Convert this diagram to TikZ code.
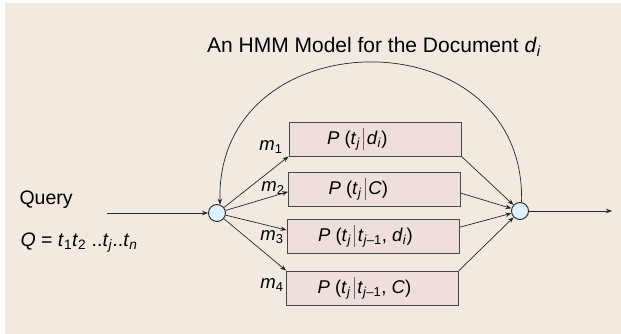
\documentclass[tikz,border=0pt]{standalone}
\usepackage{fontspec}
\setmainfont{Liberation Sans}
\usetikzlibrary{arrows.meta,calc}

\definecolor{bgbeige}{HTML}{F1EAE0}
\definecolor{boxpink}{HTML}{EEDFDB}
\definecolor{stateblue}{HTML}{DDF1FA}
\definecolor{inkgray}{HTML}{262626}

% subscript and the tall conditioning bar
\newcommand{\sbs}[1]{\textsubscript{#1}}
\newcommand{\given}{\,\textcolor{inkgray!70}{\rule[-0.3em]{0.6pt}{1.2em}}\,}

\begin{document}
\begin{tikzpicture}[x=1pt,y=-1pt,
    arr/.style={-{Stealth[length=6pt,width=4.5pt]}, line width=0.7pt, draw=inkgray},
    probbox/.style={draw=inkgray!85, line width=0.9pt, fill=boxpink,
        minimum width=172pt, minimum height=34pt, inner sep=0pt},
    state/.style={circle, draw=inkgray, line width=0.9pt, fill=stateblue,
        minimum size=17pt, inner sep=0pt},
    probtxt/.style={anchor=west, font=\fontsize{18.5}{20}\selectfont},
    mixlbl/.style={anchor=east, font=\fontsize{18.5}{20}\selectfont},
    plain/.style={font=\fontsize{19.5}{22}\selectfont}]

    % Page and background
    \useasboundingbox (0,0) rectangle (621,334);
    \fill[bgbeige] (5,3) rectangle (621,334);

    % Title
    \node[font=\fontsize{21}{24}\selectfont] (title) at (374,47)
        {An HMM Model for the Document \textit{d}\sbs{\textit{i}}};

    % Start and end states
    \node[state] (start) at (217,213) {};
    \node[state] (stop)  at (520,211) {};

    % Mixture components
    \node[probbox] (b1) at (375,139) {};
    \node[probbox] (b2) at (374.5,189) {};
    \node[probbox] (b3) at (373,236) {};
    \node[probbox] (b4) at (372.5,288) {};

    \node[probtxt, xshift=35pt] (p1) at (b1.west)
        {\textit{P} (\textit{t}\sbs{\textit{j}}\given\textit{d}\sbs{\textit{i}})};
    \node[probtxt, xshift=37pt] (p2) at (b2.west)
        {\textit{P} (\textit{t}\sbs{\textit{j}}\given\textit{C})};
    \node[probtxt, xshift=28pt] (p3) at (b3.west)
        {\textit{P} (\textit{t}\sbs{\textit{j}}\given\textit{t}\sbs{\textit{j}--1}, \textit{d}\sbs{\textit{i}})};
    \node[probtxt, xshift=28pt] (p4) at (b4.west)
        {\textit{P} (\textit{t}\sbs{\textit{j}}\given\textit{t}\sbs{\textit{j}--1}, \textit{C})};

    % Weights
    \node[mixlbl] (m1) at (286,147) {\textit{m}\sbs{1}};
    \node[mixlbl] (m2) at (288,188) {\textit{m}\sbs{2}};
    \node[mixlbl] (m3) at (287,237) {\textit{m}\sbs{3}};
    \node[mixlbl] (m4) at (287,285) {\textit{m}\sbs{4}};

    % Query text
    \node[plain, anchor=west] (query) at (16,200) {Query};
    \node[plain, anchor=west] (qdef) at (17,243)
        {\textit{Q} = \textit{t}\sbs{1}\textit{t}\sbs{2} ..\textit{t}\sbs{\textit{j}}..\textit{t}\sbs{\textit{n}}};

    % In and out
    \coordinate (in)  at (107,213);
    \coordinate (out) at (612,211);
    \draw[arr] (in) -- (start);
    \draw[arr] (stop) -- (out);

    % Fan out to the components
    \draw[arr] (start) -- (b1.south west);
    \draw[arr] (start) -- ($(b2.north west)!0.58!(b2.south west)$);
    \draw[arr] (start) -- ($(b3.north west)!0.33!(b3.south west)$);
    \draw[arr] (start) -- (b4.north west);

    % Fan in to the end state
    \draw[arr] (b1.south east) -- (stop);
    \draw[arr] ($(b2.north east)!0.62!(b2.south east)$) -- (stop);
    \draw[arr] ($(b3.north east)!0.25!(b3.south east)$) -- (stop);
    \draw[arr] (b4.north east) -- (stop);

    % Loop back for the next term
    \draw[arr] (stop.80) .. controls +(5,-188) and +(-5,-188) .. (start.70);

\end{tikzpicture}
\end{document}
